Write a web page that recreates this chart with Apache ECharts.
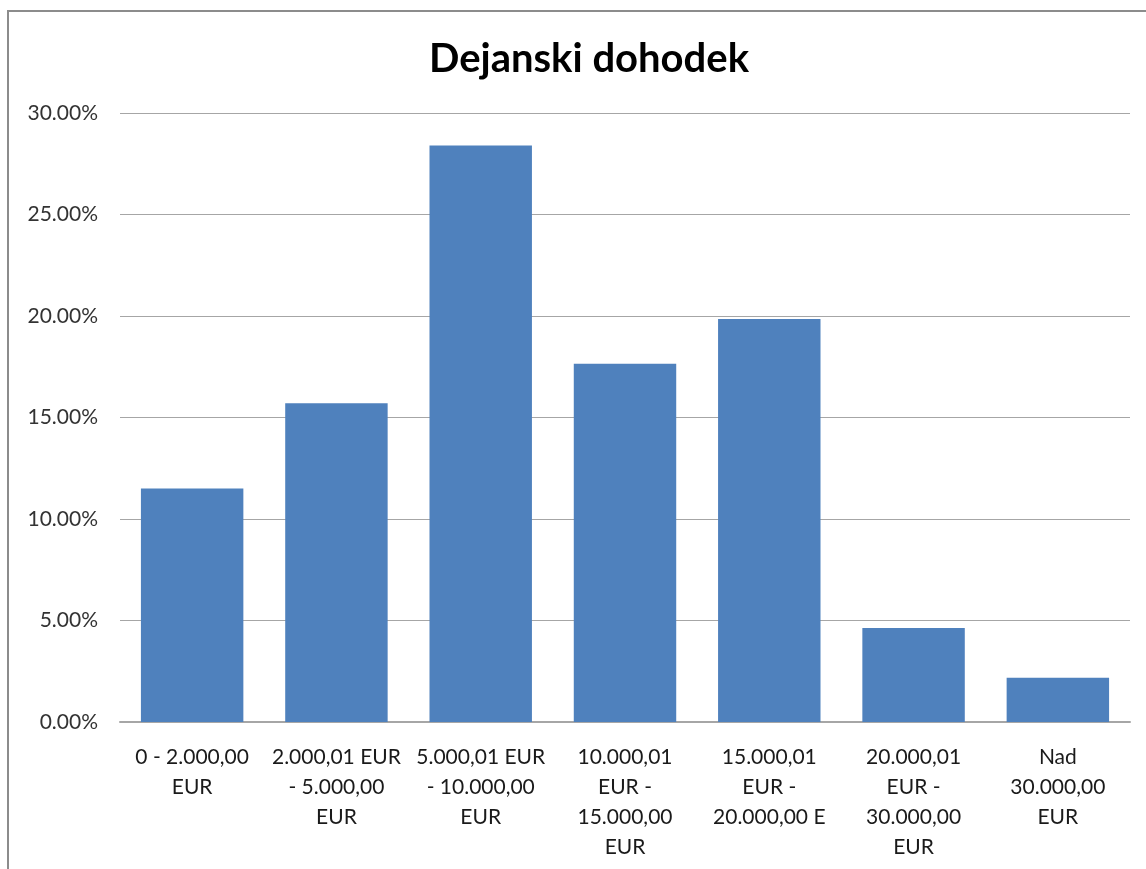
<!DOCTYPE html>
<html>
<head>
<meta charset="utf-8">
<script src="https://cdn.jsdelivr.net/npm/echarts@6/dist/echarts.min.js"></script>
<style>
  html, body { margin: 0; padding: 0; background: #fff; }
  #chart { width: 1146px; height: 869px; }
</style>
</head>
<body>
<div id="chart"></div>
<script>
// razredi dohodka
var categories = [
    "0 - 2.000,00\nEUR",
    "2.000,01 EUR\n- 5.000,00\nEUR",
    "5.000,01 EUR\n- 10.000,00\nEUR",
    "10.000,01\nEUR -\n15.000,00\nEUR",
    "15.000,01\nEUR -\n20.000,00 E",
    "20.000,01\nEUR -\n30.000,00\nEUR",
    "Nad\n30.000,00\nEUR"
];
// delez v %
var values = [11.5, 15.7, 28.4, 17.65, 19.85, 4.63, 2.18];
var yTicks = { min: 0, max: 30, interval: 5 };

var font = "Lato, 'Open Sans', sans-serif";

var chart = echarts.init(document.getElementById("chart"));
var option = {
    animation: false,
    title: {
        text: "Dejanski dohodek",
        left: 424,
        top: 34,
        textStyle: { fontFamily: font, fontSize: 40, fontWeight: "bold", color: "#000" }
    },
    graphic: [
        {
            type: "rect",
            shape: { x: 8, y: 11, width: 1200, height: 900 },
            style: { fill: "none", stroke: "#8c8c8c", lineWidth: 2 },
            silent: true
        }
    ],
    grid: { left: 120, right: 16, top: 113, bottom: 147 },
    xAxis: {
        type: "category",
        data: categories,
        axisLine: { lineStyle: { color: "#a6a6a6", width: 2 } },
        axisTick: { show: false },
        axisLabel: {
            interval: 0,
            margin: 20,
            fontFamily: font,
            fontSize: 21,
            lineHeight: 30,
            color: "#1a1a1a"
        }
    },
    yAxis: {
        type: "value",
        min: yTicks.min,
        max: yTicks.max,
        interval: yTicks.interval,
        axisLine: { show: false },
        axisTick: { show: false },
        splitLine: { lineStyle: { color: "#a6a6a6", width: 1 } },
        axisLabel: {
            margin: 22,
            fontFamily: font,
            fontSize: 21,
            color: "#333",
            formatter: function (v) { return v.toFixed(2) + "%"; }
        }
    },
    series: [
        {
            type: "bar",
            data: values,
            barCategoryGap: "29%",
            itemStyle: { color: "#4F81BD" }
        }
    ]
};
chart.setOption(option);
</script>
</body>
</html>
